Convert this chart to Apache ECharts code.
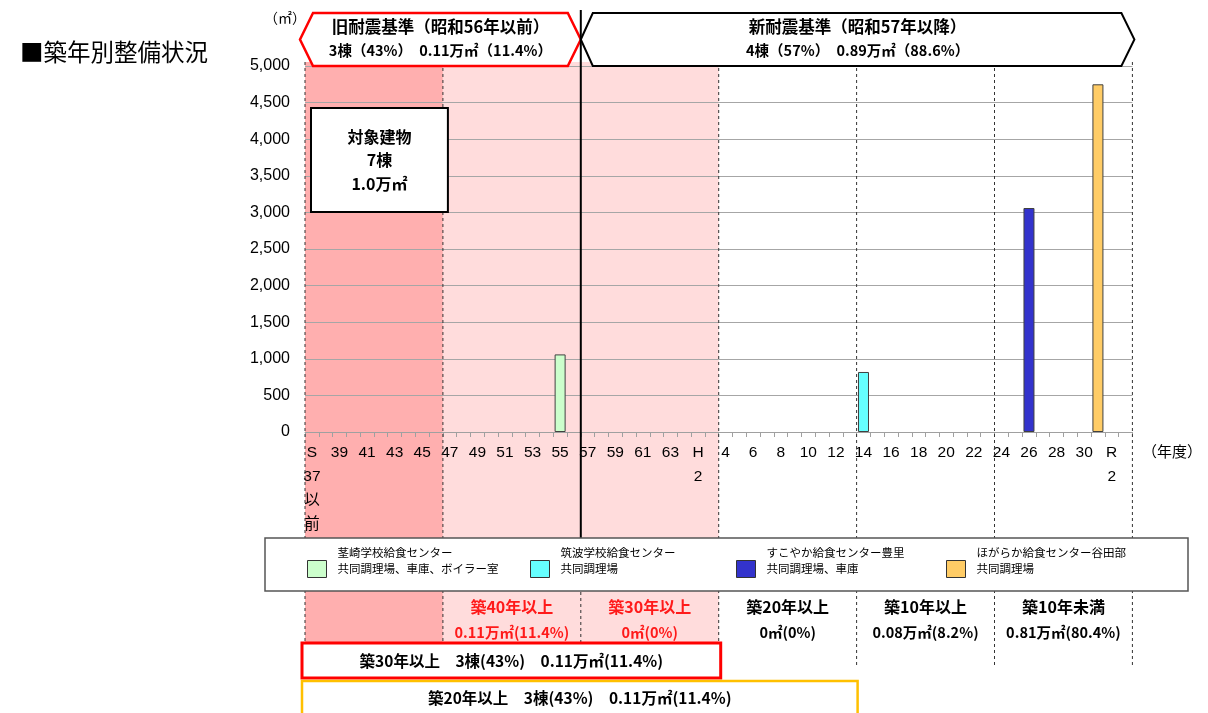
<!DOCTYPE html>
<html><head><meta charset="utf-8">
<script src="https://cdn.jsdelivr.net/npm/echarts@6/dist/echarts.min.js"></script>
<style>html,body{margin:0;padding:0;background:#fff}#c{width:1208px;height:713px}</style>
</head><body><div id="c"></div>
<script>
// ---------- data ----------
const categories = [
  'S37以前','S38','S39','S40','S41','S42','S43','S44','S45','S46',
  'S47','S48','S49','S50','S51','S52','S53','S54','S55','S56',
  'S57','S58','S59','S60','S61','S62','S63','H1','H2','H3',
  'H4','H5','H6','H7','H8','H9','H10','H11','H12','H13',
  'H14','H15','H16','H17','H18','H19','H20','H21','H22','H23',
  'H24','H25','H26','H27','H28','H29','H30','H31','R2','R3'
];
const tickLabels = ['S\n37\n以\n前','39','41','43','45','47','49','51','53','55','57','59','61','63','H\n2',
  '4','6','8','10','12','14','16','18','20','22','24','26','28','30','R\n2'];
const facilityNames = [
  '茎崎学校給食センター\n共同調理場、車庫、ボイラー室',
  '筑波学校給食センター\n共同調理場',
  'すこやか給食センター豊里\n共同調理場、車庫',
  'ほがらか給食センター谷田部\n共同調理場'
];
const builtYear = ['S55','H14','H26','H31'];
const floorArea = [1060, 820, 3060, 4750];
const barColors = ['#CCFFCC','#66FFFF','#3333CC','#FFCC66'];
const yMax = 5000, yStep = 500;

const bandEdges = ['S37以前','S47','S57','H4','H14','H24'];
const bandTitles = ['築40年以上','築30年以上','築20年以上','築10年以上','築10年未満'];
const bandValues = ['0.11万㎡(11.4%)','0㎡(0%)','0㎡(0%)','0.08万㎡(8.2%)','0.81万㎡(80.4%)'];
const oldStd = ['旧耐震基準（昭和56年以前）','3棟（43%）　0.11万㎡（11.4%）'];
const newStd = ['新耐震基準（昭和57年以降）','4棟（57%）　0.89万㎡（88.6%）'];
const totalBox = ['対象建物','7棟','1.0万㎡'];
const summary30 = '築30年以上　3棟(43%)　0.11万㎡(11.4%)';
const summary20 = '築20年以上　3棟(43%)　0.11万㎡(11.4%)';
const titleText = '■築年別整備状況';

// ---------- chart ----------
const JP = '"Noto Sans CJK JP", sans-serif';
const LAT = '"Liberation Sans", "Noto Sans CJK JP", sans-serif';
const chart = echarts.init(document.getElementById('c'), null, {renderer:'canvas'});
const legendLeft = [307, 530, 736, 946];

const option = {
  animation: false,
  textStyle: {fontFamily: JP},
  grid: {left: 305, right: 75.6, top: 66, bottom: 281},
  xAxis: {
    type: 'category', data: categories, boundaryGap: true,
    axisLine: {lineStyle: {color: '#A0A0A0', width: 1}},
    axisTick: {show: true, interval: 0, length: 5, lineStyle: {color: '#A0A0A0'}},
    axisLabel: {interval: 1, fontSize: 15.5, color: '#000', margin: 9, lineHeight: 24,
      fontFamily: LAT, formatter: (v, i) => tickLabels[i / 2] || ''}
  },
  yAxis: {
    type: 'value', min: 0, max: yMax, interval: yStep,
    axisLine: {show: false}, axisTick: {show: false},
    splitLine: {lineStyle: {color: '#A6A6A6', width: 1}},
    axisLabel: {fontSize: 16, color: '#000', margin: 15, fontFamily: LAT,
      formatter: v => v.toLocaleString('en-US')}
  },
  legend: facilityNames.map((n, i) => ({
    data: [n], left: legendLeft[i], top: 545, padding: 0, selectedMode: false, z: 6,
    itemWidth: 19, itemHeight: 17, icon: 'rect',
    formatter: name => name + '\n ',
    itemStyle: {borderColor: '#333', borderWidth: 1},
    textStyle: {fontSize: 11.5, lineHeight: 16, color: '#000', fontFamily: JP, padding: [0, 0, 0, 6]}
  })),
  series: floorArea.map((v, i) => ({
    type: 'bar', name: facilityNames[i], barWidth: 11, barGap: '-100%', z: 3,
    itemStyle: {color: barColors[i], borderColor: '#404040', borderWidth: 1},
    data: categories.map(c => c === builtYear[i] ? v : null)
  }))
};
chart.setOption(option);

// ---------- annotations positioned from the library's scales ----------
const cx = i => chart.convertToPixel({xAxisIndex: 0}, i);
const bw = cx(1) - cx(0);
const edge = i => cx(0) - bw / 2 + i * bw;
const yTop = chart.convertToPixel({yAxisIndex: 0}, yMax);
const edgeIdx = bandEdges.map(c => categories.indexOf(c)).concat([categories.length]);
const E = edgeIdx.map(edge);

const shadeTop = yTop - 4, shadeBot = 643;
const g = [];
g.push({type: 'rect', z: -10, shape: {x: E[0], y: shadeTop, width: E[1] - E[0], height: shadeBot - shadeTop}, style: {fill: '#FFAFAF'}});
g.push({type: 'rect', z: -10, shape: {x: E[1], y: shadeTop, width: E[3] - E[1], height: shadeBot - shadeTop}, style: {fill: '#FFDCDC'}});
const dash = {stroke: '#333', lineWidth: 1, lineDash: [3, 3]};
[0, 1, 3].forEach(k => g.push({type: 'line', z: 1, shape: {x1: E[k], y1: shadeTop, x2: E[k], y2: shadeBot}, style: dash}));
[4, 5, 6].forEach(k => g.push({type: 'line', z: 1, shape: {x1: E[k], y1: shadeTop, x2: E[k], y2: 665}, style: dash}));
g.push({type: 'line', z: 1, shape: {x1: E[2], y1: 592, x2: E[2], y2: shadeBot}, style: dash});

// header hexagons
const hy0 = 13, hy1 = 66, hm = 39.5;
const rl = E[0] - 5, rr = E[2];
g.push({type: 'polygon', z: 4, shape: {points: [[rl, hm], [rl + 13, hy0], [rr - 13, hy0], [rr, hm], [rr - 13, hy1], [rl + 13, hy1]]},
  style: {fill: '#fff', stroke: '#FF0000', lineWidth: 2.5}});
const bl = E[2], br = E[6] + 2;
g.push({type: 'polygon', z: 4, shape: {points: [[bl, hm], [bl + 12, hy0], [br - 13, hy0], [br, hm], [br - 13, hy1], [bl + 12, hy1]]},
  style: {fill: '#fff', stroke: '#000', lineWidth: 2}});
g.push({type: 'line', z: 5, shape: {x1: E[2], y1: 10, x2: E[2], y2: 538}, style: {stroke: '#000', lineWidth: 2}});
function txt(x, y, t, font, color, extra) {
  return Object.assign({type: 'text', z: 7, x: x, y: y,
    style: {text: t, font: font, fill: color || '#000', align: 'center', verticalAlign: 'middle',
      textAlign: 'center', textVerticalAlign: 'middle'}}, extra || {});
}
g.push(txt((rl + rr) / 2, 27, oldStd[0], 'bold 16.5px "Noto Sans CJK JP"'));
g.push(txt((rl + rr) / 2, 50, oldStd[1], 'bold 14.5px "Noto Sans CJK JP"'));
g.push(txt((bl + br) / 2, 27, newStd[0], 'bold 16.5px "Noto Sans CJK JP"'));
g.push(txt((bl + br) / 2, 50, newStd[1], 'bold 14.5px "Noto Sans CJK JP"'));

// total box
g.push({type: 'rect', z: 4, shape: {x: E[0] + 6, y: 108, width: E[1] - E[0] - 1, height: 104}, style: {fill: '#fff', stroke: '#000', lineWidth: 2}});
g.push({type: 'text', z: 7, x: E[0] + 6 + (E[1] - E[0] - 1) / 2, y: 160,
  style: {text: totalBox.join('\n'), font: 'bold 16px "Noto Sans CJK JP"', lineHeight: 23.5, fill: '#000',
    align: 'center', verticalAlign: 'middle', textAlign: 'center', textVerticalAlign: 'middle'}});

// legend frame
g.push({type: 'rect', z: 5, shape: {x: 265, y: 538, width: 923, height: 53}, style: {fill: '#fff', stroke: '#555', lineWidth: 1.5}});

// band annotations
bandTitles.forEach((t, k) => {
  const x = (E[k + 1] + E[k + 2]) / 2;
  const col = k < 2 ? '#FF1A1A' : '#000';
  g.push(txt(x, 607, t, 'bold 16px "Noto Sans CJK JP"', col));
  g.push(txt(x, 632, bandValues[k], 'bold 14.5px "Noto Sans CJK JP"', col));
});

// summary boxes
g.push({type: 'rect', z: 5, shape: {x: E[0] - 3, y: 643, width: E[3] - E[0] + 5, height: 35}, style: {fill: '#fff', stroke: '#FF0000', lineWidth: 3}});
g.push(txt((E[0] - 3 + E[3] + 2) / 2, 661, summary30, 'bold 15.5px "Noto Sans CJK JP"'));
g.push({type: 'rect', z: 5, shape: {x: E[0] - 3, y: 681, width: E[4] - E[0] + 4, height: 36}, style: {fill: '#fff', stroke: '#FFC000', lineWidth: 2.5}});
g.push(txt((E[0] - 3 + E[4] + 1) / 2, 698, summary20, 'bold 15.5px "Noto Sans CJK JP"'));

// title and unit labels
g.push({type: 'text', z: 7, x: 20, y: 52, style: {text: titleText, font: '23.5px "Noto Sans CJK JP"', fill: '#000', align: 'left', verticalAlign: 'middle', textAlign: 'left', textVerticalAlign: 'middle'}});
g.push(txt(285, 18, '（㎡）', '14px "Noto Sans CJK JP"'));
g.push(txt(1172, 451, '（年度）', '15px "Noto Sans CJK JP"'));

chart.setOption({graphic: {elements: g}});
</script>
</body></html>
